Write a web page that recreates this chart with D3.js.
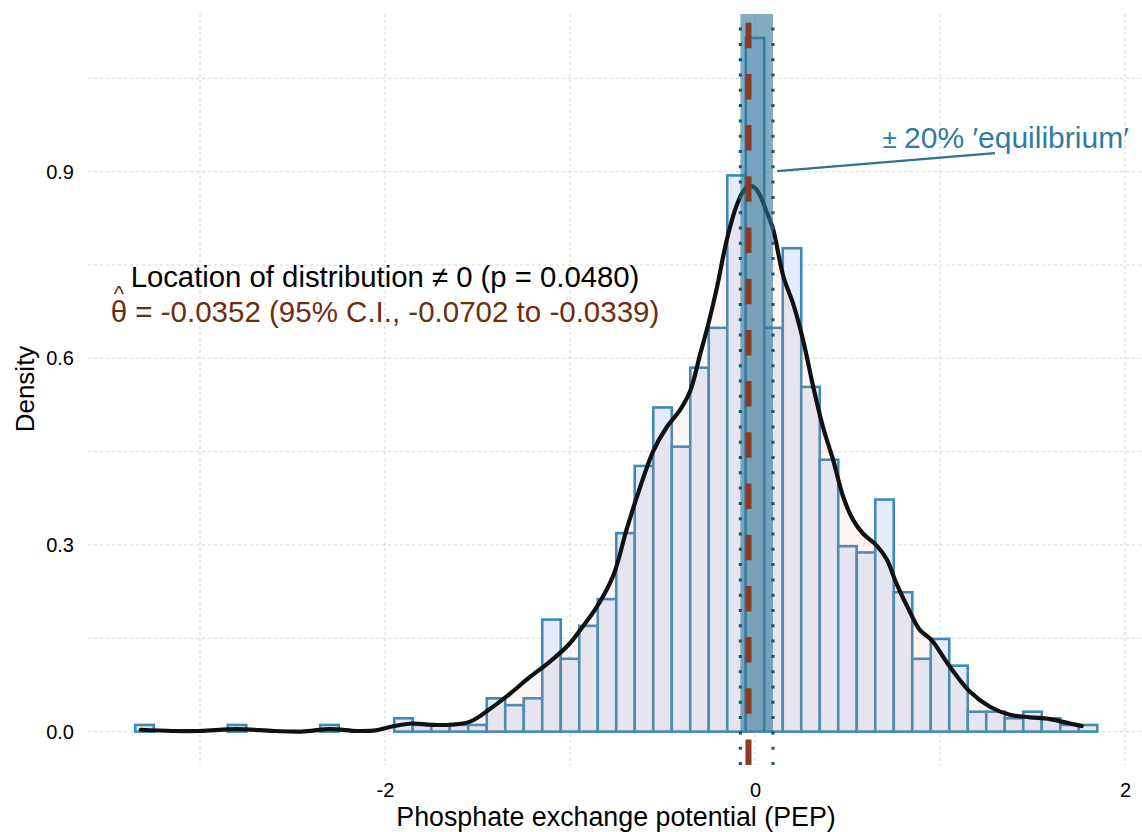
<!DOCTYPE html>
<html><head><meta charset="utf-8">
<script src="https://cdn.jsdelivr.net/npm/d3@7"></script>
<style>
body{margin:0;background:#fff}
svg{display:block}
text{font-family:"Liberation Sans",Arial,sans-serif}
</style>
</head><body>
<svg id="chart" width="1142" height="832"></svg>
<script>
// ---- data ----
const binCenters = [-3.3,-2.8,-2.3,-1.9,-1.8,-1.7,-1.6,-1.5,-1.4,-1.3,-1.2,-1.1,-1.0,-0.9,-0.8,-0.7,-0.6,-0.5,-0.4,-0.3,-0.2,-0.1,0.0,0.1,0.2,0.3,0.4,0.5,0.6,0.7,0.8,0.9,1.0,1.1,1.2,1.3,1.4,1.5,1.6,1.7,1.8];
const binDensity = [0.0107,0.0107,0.0107,0.0214,0.0107,0.0107,0.0107,0.0107,0.0535,0.0425,0.0535,0.180,0.117,0.170,0.213,0.319,0.427,0.521,0.458,0.585,0.649,0.894,1.115,0.649,0.777,0.554,0.437,0.298,0.288,0.373,0.224,0.117,0.149,0.106,0.032,0.032,0.0214,0.032,0.0214,0.0107,0.0107];
const binWidth = 0.1;
const densX = [-3.32,-3.15,-3.0,-2.8,-2.6,-2.45,-2.3,-2.15,-2.05,-1.95,-1.85,-1.75,-1.65,-1.54,-1.43,-1.32,-1.22,-1.11,-1.0,-0.946,-0.856,-0.766,-0.694,-0.622,-0.55,-0.48,-0.405,-0.351,-0.297,-0.255,-0.207,-0.153,-0.099,-0.06,-0.03,0.0,0.027,0.06,0.099,0.153,0.207,0.261,0.315,0.369,0.423,0.477,0.531,0.585,0.658,0.712,0.766,0.838,0.892,0.955,1.04,1.162,1.27,1.378,1.486,1.595,1.703,1.766];
const densY = [0.003,0.001,0.001,0.004,0.001,0.0,0.004,0.001,0.002,0.009,0.013,0.011,0.011,0.016,0.037,0.062,0.087,0.112,0.142,0.163,0.200,0.251,0.325,0.392,0.451,0.488,0.517,0.547,0.606,0.652,0.712,0.790,0.846,0.870,0.877,0.874,0.862,0.838,0.806,0.732,0.687,0.628,0.554,0.488,0.436,0.377,0.340,0.318,0.299,0.277,0.237,0.192,0.163,0.147,0.110,0.064,0.040,0.027,0.023,0.020,0.013,0.009];
const xTickValues = [-2,0,2];
const xTickLabels = ["-2","0","2"];
const yTickValues = [0,0.3,0.6,0.9];
const yTickLabels = ["0.0","0.3","0.6","0.9"];
const xGridValues = [-3,-2,-1,0,1,2];
const yGridValues = [0,0.15,0.3,0.45,0.6,0.75,0.9,1.05];
const bandLow = -0.079, bandHigh = 0.097;
const thetaHat = -0.0352;
const xTitle = "Phosphate exchange potential (PEP)";
const yTitle = "Density";
const line1 = "Location of distribution \u2260 0 (p = 0.0480)";
const line2 = " = -0.0352 (95% C.I., -0.0702 to -0.0339)";
const bandLabel = "20% \u2032equilibrium\u2032";
const labelX = -2.0;
const bandLabelX = 1.355;
const pointerFrom = [0.12, 0.901], pointerTo = [1.297, 0.930];

// ---- layout ----
const panel = {left: 88, right: 1142, top: 14, bottom: 765};
const x = d3.scaleLinear().domain([-3, 2]).range([200, 1125]);
const y = d3.scaleLinear().domain([0, 0.9]).range([731.6, 171.7]);
const svg = d3.select("#chart");

// grid
const grid = svg.append("g");
grid.selectAll("line.v").data(xGridValues).join("line")
  .attr("x1", d => x(d)).attr("x2", d => x(d))
  .attr("y1", panel.top).attr("y2", panel.bottom)
  .attr("stroke", "#d6d6d6").attr("stroke-width", 1).attr("stroke-dasharray", "3,3");
grid.selectAll("line.h").data(yGridValues).join("line")
  .attr("x1", panel.left).attr("x2", panel.right)
  .attr("y1", d => y(d)).attr("y2", d => y(d))
  .attr("stroke", "#d6d6d6").attr("stroke-width", 1).attr("stroke-dasharray", "3,3");

// bars
const bins = binCenters.map((c, i) => ({c, d: binDensity[i]}));
svg.append("g").selectAll("rect").data(bins).join("rect")
  .attr("x", d => x(d.c - binWidth / 2))
  .attr("width", d => x(d.c + binWidth / 2) - x(d.c - binWidth / 2))
  .attr("y", d => y(d.d))
  .attr("height", d => y(0) - y(d.d))
  .attr("fill", "#e4ecfc")
  .attr("stroke", "#3d8ab6").attr("stroke-width", 2.6);

// density
const pts = densX.map((v, i) => [v, densY[i]]);
svg.append("path").datum(pts)
  .attr("d", d3.area().x(d => x(d[0])).y0(y(0)).y1(d => y(d[1])).curve(d3.curveCatmullRom))
  .attr("fill", "#ff9f80").attr("fill-opacity", 0.1);
svg.append("path").datum(pts)
  .attr("d", d3.line().x(d => x(d[0])).y(d => y(d[1])).curve(d3.curveCatmullRom))
  .attr("fill", "none").attr("stroke", "#111").attr("stroke-width", 4.2)
  .attr("stroke-linejoin", "round").attr("stroke-linecap", "round");

// equilibrium band
svg.append("rect")
  .attr("x", x(bandLow)).attr("width", x(bandHigh) - x(bandLow))
  .attr("y", panel.top).attr("height", y(0) - panel.top)
  .attr("fill", "#2f7596").attr("fill-opacity", 0.6);

// dotted band edges
svg.append("g").selectAll("line").data([bandLow, bandHigh]).join("line")
  .attr("x1", d => x(d)).attr("x2", d => x(d))
  .attr("y1", panel.bottom).attr("y2", panel.top + 8)
  .attr("stroke", "#1b5673").attr("stroke-width", 3.2).attr("stroke-dasharray", "3,12.3");

// estimate line
svg.append("line")
  .attr("x1", x(thetaHat)).attr("x2", x(thetaHat))
  .attr("y1", panel.bottom).attr("y2", panel.top)
  .attr("stroke", "#8b3a22").attr("stroke-width", 6).attr("stroke-dasharray", "25.5,25.7");

// pointer + band label
svg.append("line")
  .attr("x1", x(pointerFrom[0])).attr("y1", y(pointerFrom[1]))
  .attr("x2", x(pointerTo[0])).attr("y2", y(pointerTo[1]))
  .attr("stroke", "#2a7294").attr("stroke-width", 2.2);
const bl = svg.append("text")
  .attr("x", x(bandLabelX)).attr("y", 148)
  .attr("text-anchor", "middle").attr("fill", "#2c7ca3").attr("font-size", 30);
bl.append("tspan").attr("font-size", 26).text("\u00B1 ");
bl.append("tspan").text(bandLabel);

// location text
svg.append("text").attr("x", x(labelX)).attr("y", 287)
  .attr("text-anchor", "middle").attr("font-size", 29.3).attr("fill", "#000")
  .text(line1);
const t2 = svg.append("text").attr("x", x(labelX)).attr("y", 322)
  .attr("text-anchor", "middle").attr("font-size", 29.5).attr("fill", "#6b2e12");
t2.append("tspan").text("\u03B8");
t2.append("tspan").text(line2);
const tn = t2.node();
const p0 = tn.getStartPositionOfChar(0), p1 = tn.getEndPositionOfChar(0);
svg.append("text").attr("x", (p0.x + p1.x) / 2).attr("y", 301)
  .attr("text-anchor", "middle").attr("font-size", 22).attr("fill", "#6b2e12").text("^");

// axes
const ya = svg.append("g").attr("transform", `translate(${panel.left},0)`)
  .call(d3.axisLeft(y).tickValues(yTickValues).tickFormat((d, i) => yTickLabels[i]).tickSize(0).tickPadding(14));
ya.select(".domain").remove();
ya.selectAll("text").attr("font-size", 20).attr("fill", "#000").attr("font-family", '"Liberation Sans",Arial,sans-serif');
const xa = svg.append("g").attr("transform", `translate(0,${panel.bottom})`)
  .call(d3.axisBottom(x).tickValues(xTickValues).tickFormat((d, i) => xTickLabels[i]).tickSize(0).tickPadding(18));
xa.select(".domain").remove();
xa.selectAll("text").attr("font-size", 20).attr("fill", "#000").attr("font-family", '"Liberation Sans",Arial,sans-serif');

// titles
svg.append("text").attr("x", 616).attr("y", 826)
  .attr("text-anchor", "middle").attr("font-size", 26.8).attr("fill", "#000").text(xTitle);
svg.append("text").attr("transform", "translate(34,389) rotate(-90)")
  .attr("text-anchor", "middle").attr("font-size", 26).attr("fill", "#000").text(yTitle);
</script>
</body></html>
